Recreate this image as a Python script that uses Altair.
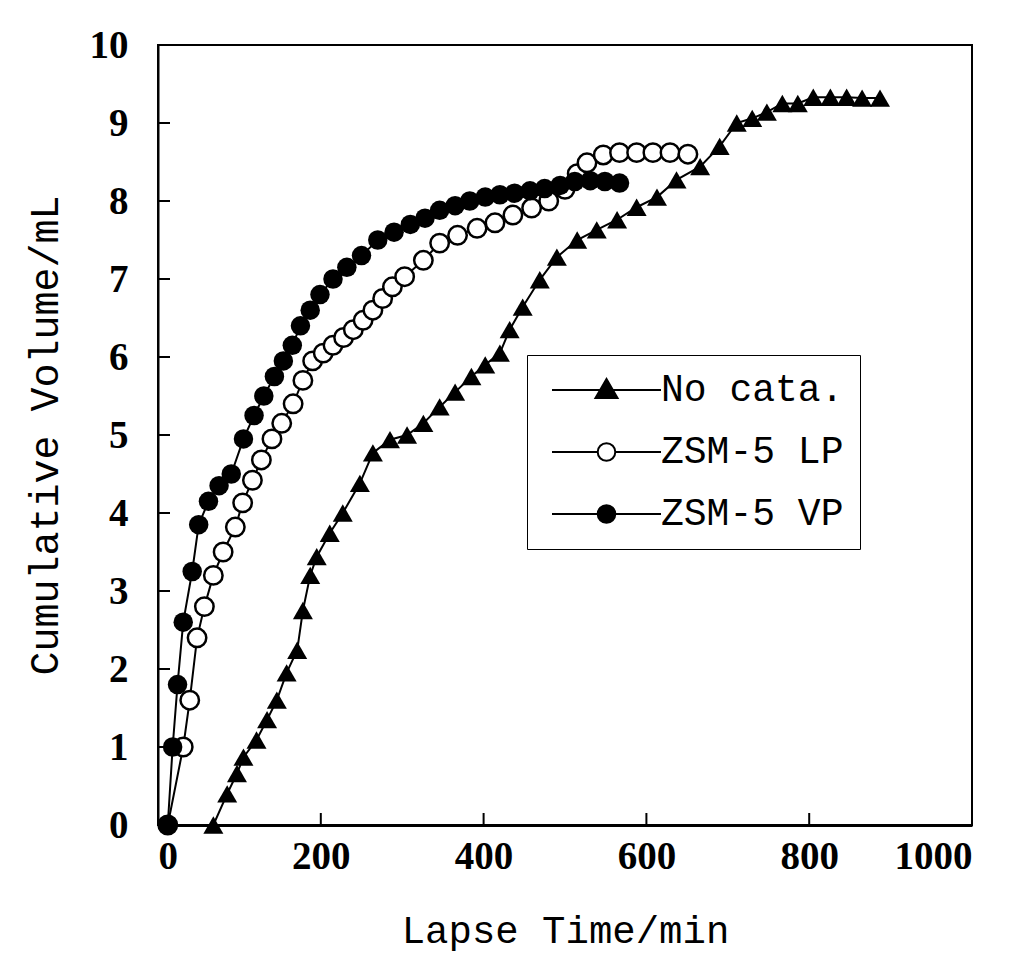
import altair as alt
import pandas as pd

# ---- data ----
series_names = ["No cata.", "ZSM-5 LP", "ZSM-5 VP"]

nocat_t = [68, 85, 97, 105, 121, 134, 146, 158, 171, 178,
           187, 195, 211, 227, 248, 264, 285, 306, 326, 346,
           365, 385, 402, 420, 432, 448, 469, 490, 515, 539,
           564, 588, 613, 637, 666, 690, 711, 730, 748, 767,
           786, 805, 826, 846, 865, 887]
nocat_v = [0.0, 0.4, 0.66, 0.87, 1.09, 1.35, 1.6, 1.95, 2.24, 2.75,
           3.2, 3.44, 3.74, 4.0, 4.38, 4.77, 4.94, 5.0, 5.15, 5.36,
           5.55, 5.75, 5.9, 6.05, 6.35, 6.64, 6.99, 7.28, 7.5, 7.63,
           7.76, 7.92, 8.05, 8.27, 8.44, 8.7, 9.0, 9.06, 9.14, 9.25,
           9.25, 9.33, 9.33, 9.33, 9.32, 9.32]

lp_t = [12, 31, 39, 48, 57, 68, 80, 95, 104, 116,
        127, 140, 152, 166, 178, 190, 203, 215, 228, 240,
        252, 264, 276, 288, 303, 326, 346, 368, 392, 414,
        436, 459, 480, 500, 515, 527, 547, 567, 588, 608,
        629, 651]
lp_v = [0.0, 1.0, 1.6, 2.4, 2.8, 3.2, 3.5, 3.82, 4.13, 4.42,
        4.68, 4.95, 5.15, 5.4, 5.7, 5.95, 6.05, 6.15, 6.25, 6.35,
        6.47, 6.6, 6.75, 6.9, 7.03, 7.24, 7.46, 7.56, 7.65, 7.72,
        7.82, 7.91, 8.0, 8.15, 8.35, 8.49, 8.59, 8.62, 8.62, 8.62,
        8.62, 8.6]

vp_t = [12, 18, 24, 31, 42, 50, 62, 75, 90, 105,
        118, 130, 143, 154, 165, 175, 187, 199, 215, 232,
        250, 270, 290, 310, 328, 346, 365, 383, 402, 420,
        438, 457, 475, 494, 512, 531, 549, 567]
vp_v = [0.0, 1.0, 1.8, 2.6, 3.25, 3.85, 4.15, 4.35, 4.5, 4.95,
        5.25, 5.5, 5.75, 5.95, 6.15, 6.4, 6.6, 6.8, 7.0, 7.15,
        7.3, 7.5, 7.6, 7.7, 7.78, 7.88, 7.94, 8.0, 8.05, 8.08,
        8.1, 8.13, 8.16, 8.2, 8.25, 8.26, 8.25, 8.23]

x_ticks = [0, 200, 400, 600, 800, 1000]
y_ticks = [0, 1, 2, 3, 4, 5, 6, 7, 8, 9, 10]

df = pd.concat([
    pd.DataFrame({"series": series_names[0], "t": nocat_t, "v": nocat_v}),
    pd.DataFrame({"series": series_names[1], "t": lp_t, "v": lp_v}),
    pd.DataFrame({"series": series_names[2], "t": vp_t, "v": vp_v}),
], ignore_index=True)

W, H = 814, 780
TICK_FONT = "Liberation Serif"
TITLE_FONT = "Liberation Mono"

xscale = alt.Scale(domain=[0, 1000], nice=False)
yscale = alt.Scale(domain=[0, 10], nice=False)

xenc = alt.X("t:Q", scale=xscale,
             axis=alt.Axis(values=x_ticks, format="d", title="Lapse Time/min", grid=False,
                           ticks=False, tickSize=0, labelPadding=12,
                           domainColor="black", domainWidth=3,
                           labelFont=TICK_FONT, labelFontSize=39, labelFontWeight="bold",
                           labelColor="black", titleFont=TITLE_FONT,
                           titleFontSize=39, titleFontWeight="normal",
                           titleColor="black", titlePadding=35))
yenc = alt.Y("v:Q", scale=yscale,
             axis=alt.Axis(values=y_ticks, format="d", title="Cumulative Volume/mL", grid=False,
                           ticks=False, tickSize=0, labelPadding=30,
                           domainColor="black", domainWidth=2,
                           labelFont=TICK_FONT, labelFontSize=39, labelFontWeight="bold",
                           labelColor="black", titleFont=TITLE_FONT,
                           titleFontSize=40, titleFontWeight="normal",
                           titleColor="black", titlePadding=24))

base = alt.Chart(df)

lines = base.mark_line(color="black", strokeWidth=2).encode(
    x=xenc, y=yenc, detail="series:N", order="t:Q")

pts_nocat = base.transform_filter(alt.datum.series == series_names[0]).mark_point(
    shape="triangle-up", filled=True, color="black", size=400, opacity=1
).encode(x="t:Q", y="v:Q")

pts_lp = base.transform_filter(alt.datum.series == series_names[1]).mark_point(
    shape="circle", filled=False, stroke="black", fill="white", fillOpacity=1,
    strokeWidth=2.5, size=340, opacity=1
).encode(x="t:Q", y="v:Q")

pts_vp = base.transform_filter(alt.datum.series == series_names[2]).mark_point(
    shape="circle", filled=True, color="black", size=380, opacity=1
).encode(x="t:Q", y="v:Q")

# legend glyphs: line + marker, path units = 10 px (symbolSize 400)
tri_path = "M-1,0H9.9M4.45,-1.1L5.55,0.8L3.35,0.8Z"
open_circ = ("M-1,0H3.57M5.33,0H9.9M3.57,0A0.88,0.88,0,1,0,5.33,0"
             "A0.88,0.88,0,1,0,3.57,0Z")
fill_circ = ("M-1,0H9.9M3.57,0A0.88,0.88,0,1,0,5.33,0"
             "A0.88,0.88,0,1,0,3.57,0Z")

leg = alt.Legend(
    title=None, orient="none", legendX=369, legendY=310,
    strokeColor="black", fillColor="white", padding=16,
    labelFont=TITLE_FONT, labelFontSize=38, labelColor="black",
    labelOffset=80, rowPadding=24, symbolSize=400,
    symbolStrokeWidth=2, labelLimit=400)

legend_layer = base.transform_filter("false").mark_point(
    filled=False, stroke="black", strokeWidth=2, opacity=1
).encode(
    x="t:Q", y="v:Q",
    shape=alt.Shape("series:N",
                    scale=alt.Scale(domain=series_names,
                                    range=[tri_path, open_circ, fill_circ]),
                    legend=leg),
    fill=alt.Fill("series:N",
                  scale=alt.Scale(domain=series_names,
                                  range=["black", "white", "black"]),
                  legend=leg),
)

# inward tick marks
xt = alt.Chart(pd.DataFrame({"tv": x_ticks})).mark_rule(color="black", strokeWidth=2).encode(
    x=alt.X("tv:Q", scale=xscale), y=alt.value(H), y2=alt.value(H - 12))
yt = alt.Chart(pd.DataFrame({"tv": y_ticks})).mark_rule(color="black", strokeWidth=2).encode(
    y=alt.Y("tv:Q", scale=yscale), x=alt.value(0), x2=alt.value(12))

chart = alt.layer(lines, pts_lp, pts_vp, pts_nocat, xt, yt, legend_layer).properties(
    width=W, height=H,
    autosize=alt.AutoSizeParams(type="none"),
    padding={"left": 158, "top": 45, "right": 47, "bottom": 132},
    background="white",
).configure_view(stroke="black", strokeWidth=2)

chart.save("out.html", embed_options={"renderer": "svg", "actions": False})
